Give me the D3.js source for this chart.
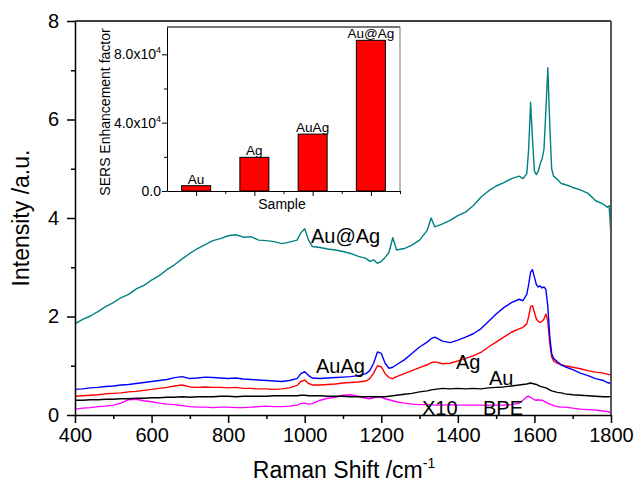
<!DOCTYPE html>
<html lang="en">
<head>
<meta charset="UTF-8">
<title>SERS spectra</title>
<script src="https://d3js.org/d3.v7.min.js"></script>
<style>
  body { margin: 0; background: #fff; }
  svg { font-family: "Liberation Sans", Arial, sans-serif; }
</style>
</head>
<body>
<svg id="chart" width="636" height="486"></svg>
<script>
// Raman shift grid (cm-1), shared by all spectra
const ramanShift = [400,420,440,460,480,500,520,540,560,580,600,620,640,660,680,700,720,740,760,780,800,820,840,860,880,900,920,940,960,980,
  990,1000,1010,1020,1040,1060,1080,1100,1120,1140,1160,1170,1180,1190,1200,1210,1220,1230,1240,1260,1280,1300,1320,1330,1340,
  1360,1380,1400,1420,1440,1460,1480,1500,1520,1540,1560,1570,1580,1585,1590,1595,1600,1605,1610,1615,1620,1625,1630,1635,1640,1645,1650,
  1660,1670,1680,1700,1720,1740,1760,1780,1790,1795,1800];

// intensities
const auAtAg = [1.85,1.94,2.01,2.10,2.20,2.28,2.38,2.45,2.56,2.63,2.74,2.83,2.95,3.05,3.17,3.28,3.38,3.46,3.54,3.58,3.64,3.66,3.61,3.62,3.55,3.54,3.52,3.48,3.51,3.55,
  3.70,3.78,3.55,3.42,3.40,3.37,3.35,3.32,3.28,3.22,3.18,3.12,3.15,3.08,3.12,3.20,3.30,3.60,3.35,3.38,3.45,3.55,3.75,4.00,3.82,
  3.88,3.95,4.05,4.12,4.25,4.42,4.55,4.65,4.72,4.80,4.85,4.80,4.90,5.40,6.35,5.60,4.95,4.88,4.95,5.10,5.20,5.40,6.20,7.05,5.90,5.00,4.85,
  4.78,4.70,4.68,4.62,4.57,4.50,4.35,4.28,4.22,4.25,3.65];
const auAg = [0.52,0.53,0.55,0.56,0.58,0.59,0.61,0.62,0.64,0.66,0.68,0.70,0.72,0.76,0.78,0.74,0.75,0.77,0.76,0.75,0.74,0.75,0.73,0.72,0.71,0.70,0.69,0.68,0.70,0.74,
  0.84,0.88,0.80,0.75,0.74,0.75,0.76,0.77,0.78,0.80,0.84,0.90,1.05,1.28,1.25,1.05,0.95,0.97,1.02,1.12,1.25,1.38,1.48,1.55,1.58,
  1.50,1.47,1.52,1.58,1.65,1.75,1.90,2.05,2.18,2.28,2.35,2.32,2.45,2.65,2.90,2.95,2.80,2.65,2.60,2.62,2.58,2.60,2.55,2.20,1.60,1.25,1.15,
  1.08,1.02,0.98,0.92,0.85,0.80,0.74,0.70,0.66,0.65,0.64];
const ag = [0.38,0.39,0.40,0.41,0.43,0.44,0.45,0.47,0.48,0.50,0.52,0.54,0.56,0.59,0.61,0.57,0.56,0.57,0.56,0.56,0.55,0.56,0.54,0.54,0.53,0.53,0.52,0.53,0.55,0.60,
  0.68,0.71,0.64,0.61,0.61,0.62,0.63,0.65,0.66,0.67,0.69,0.74,0.85,1.00,0.98,0.84,0.76,0.74,0.78,0.84,0.90,0.96,1.02,1.06,1.08,
  1.04,1.05,1.10,1.15,1.20,1.27,1.38,1.48,1.58,1.68,1.75,1.78,1.85,2.00,2.20,2.22,2.08,1.95,1.90,1.88,1.90,1.95,2.05,1.90,1.45,1.18,1.10,
  1.05,1.02,1.00,0.97,0.94,0.90,0.87,0.85,0.83,0.82,0.81];
const au = [0.30,0.30,0.31,0.31,0.32,0.32,0.33,0.33,0.34,0.34,0.35,0.35,0.36,0.36,0.37,0.36,0.37,0.37,0.37,0.38,0.38,0.37,0.38,0.38,0.38,0.38,0.39,0.39,0.39,0.39,
  0.40,0.40,0.39,0.39,0.39,0.38,0.38,0.38,0.37,0.37,0.37,0.37,0.37,0.37,0.37,0.37,0.38,0.39,0.40,0.42,0.44,0.47,0.49,0.51,0.52,
  0.54,0.53,0.54,0.53,0.54,0.53,0.55,0.56,0.57,0.59,0.61,0.62,0.63,0.64,0.65,0.64,0.63,0.62,0.60,0.58,0.57,0.56,0.55,0.53,0.51,0.49,0.48,
  0.46,0.45,0.43,0.41,0.40,0.39,0.38,0.37,0.37,0.37,0.37];
const bpeX10 = [0.12,0.14,0.15,0.17,0.18,0.20,0.24,0.31,0.32,0.29,0.27,0.24,0.22,0.21,0.19,0.17,0.16,0.16,0.15,0.16,0.16,0.15,0.15,0.16,0.17,0.18,0.17,0.17,0.18,0.20,
  0.23,0.24,0.22,0.23,0.30,0.34,0.36,0.40,0.41,0.38,0.34,0.33,0.35,0.37,0.36,0.33,0.31,0.29,0.27,0.24,0.22,0.21,0.21,0.21,0.20,
  0.20,0.21,0.20,0.20,0.20,0.20,0.20,0.20,0.20,0.21,0.24,0.30,0.37,0.38,0.36,0.33,0.31,0.30,0.31,0.30,0.30,0.28,0.26,0.24,0.22,0.21,0.19,
  0.17,0.16,0.16,0.14,0.12,0.11,0.10,0.08,0.07,0.06,0.05];

const xTicks = [400,600,800,1000,1200,1400,1600,1800];
const yTicks = [0,2,4,6,8];

// inset: enhancement factors
const samples = ["Au", "Ag", "AuAg", "Au@Ag"];
const enhancement = [3100, 19700, 33300, 88200];
const insetTicks = [0, 40000, 80000];
const insetTickText = ["0.0", "4.0x10", "8.0x10"];

const svg = d3.select("#chart");

// main plot
const x = d3.scaleLinear().domain([400, 1800]).range([75, 611]);
const y = d3.scaleLinear().domain([0, 8]).range([415, 21]);

const series = [
  {vals: auAtAg, color: "#008080"},
  {vals: bpeX10, color: "#ff00ff"},
  {vals: au, color: "#000000"},
  {vals: ag, color: "#ff0000"},
  {vals: auAg, color: "#0000ff"}
];

const line = d3.line().x(d => x(d[0])).y(d => y(d[1]));

series.forEach(s => {
  svg.append("path")
    .datum(ramanShift.map((r, i) => [r, s.vals[i]]))
    .attr("fill", "none")
    .attr("stroke", s.color)
    .attr("stroke-width", 1.4)
    .attr("stroke-linejoin", "round")
    .attr("d", line);
});

// frame
svg.append("line").attr("x1", 75).attr("x2", 611).attr("y1", 21).attr("y2", 21)
  .attr("stroke", "#000").attr("stroke-width", 1.5);
svg.append("line").attr("x1", 611).attr("x2", 611).attr("y1", 21).attr("y2", 415)
  .attr("stroke", "#555").attr("stroke-width", 2);

// minor ticks
svg.append("g").attr("transform", "translate(0,415)")
  .call(d3.axisBottom(x).tickValues(d3.range(500, 1800, 200)).tickSize(4).tickFormat(""))
  .call(g => g.select(".domain").remove());
svg.append("g").attr("transform", "translate(75,0)")
  .call(d3.axisLeft(y).tickValues([1, 3, 5, 7]).tickSize(4).tickFormat(""))
  .call(g => g.select(".domain").remove());

const xAxis = svg.append("g").attr("transform", "translate(0,415)")
  .call(d3.axisBottom(x).tickValues(xTicks).tickSize(8).tickPadding(5).tickSizeOuter(0).tickFormat(d3.format("d")));
const yAxis = svg.append("g").attr("transform", "translate(75,0)")
  .call(d3.axisLeft(y).tickValues(yTicks).tickSize(8).tickPadding(8).tickSizeOuter(0));
[xAxis, yAxis].forEach(g => {
  g.selectAll("text").attr("font-size", 20).attr("fill", "#000").attr("font-family", "Liberation Sans, Arial, sans-serif");
  g.selectAll("line, path").attr("stroke", "#000").attr("stroke-width", 1.5);
});
svg.selectAll("g line").attr("stroke-width", 1.5);

// axis titles
const xt = svg.append("text").attr("x", 344).attr("y", 478).attr("text-anchor", "middle")
  .attr("font-size", 23).text("Raman Shift /cm");
xt.append("tspan").attr("font-size", 14).attr("dy", -10).text("-1");

svg.append("text").attr("transform", "translate(29,218) rotate(-90)")
  .attr("text-anchor", "middle").attr("font-size", 23).text("Intensity /a.u.");

// curve labels
const curveLabels = [
  {t: "Au@Ag", x: 311, y: 243},
  {t: "AuAg", x: 316, y: 373},
  {t: "Ag", x: 456, y: 369},
  {t: "Au", x: 489, y: 385},
  {t: "X10", x: 422, y: 415},
  {t: "BPE", x: 483, y: 415}
];
svg.selectAll(".clab").data(curveLabels).enter().append("text")
  .attr("x", d => d.x).attr("y", d => d.y).attr("font-size", 20).text(d => d.t);

// inset
const ix = d3.scaleLinear().domain([0.5, 4.5]).range([167, 400]);
const iy = d3.scaleLinear().domain([0, 96000]).range([191, 27]);

svg.append("rect").attr("x", 167).attr("y", 27).attr("width", 233).attr("height", 164).attr("fill", "#fff");

svg.selectAll(".bar").data(enhancement).enter().append("rect")
  .attr("x", (d, i) => ix(i + 1) - 14.5)
  .attr("width", 29)
  .attr("y", d => iy(d))
  .attr("height", d => iy(0) - iy(d))
  .attr("fill", "#ff0000").attr("stroke", "#000").attr("stroke-width", 1);

svg.selectAll(".blab").data(enhancement).enter().append("text")
  .attr("x", (d, i) => ix(i + 1)).attr("y", d => iy(d) - 2)
  .attr("text-anchor", "middle").attr("font-size", 13.5).text((d, i) => samples[i]);

// inset frame
svg.append("line").attr("x1", 167).attr("x2", 400).attr("y1", 27).attr("y2", 27)
  .attr("stroke", "#777").attr("stroke-width", 2);
svg.append("line").attr("x1", 400).attr("x2", 400).attr("y1", 27).attr("y2", 191)
  .attr("stroke", "#777").attr("stroke-width", 1);

svg.append("g").attr("transform", "translate(0,191)")
  .call(d3.axisBottom(ix).tickValues([1.5, 2.5, 3.5, 4.5]).tickSize(3).tickFormat(""))
  .call(g => g.select(".domain").remove());
svg.append("g").attr("transform", "translate(167,0)")
  .call(d3.axisLeft(iy).tickValues([20000, 60000]).tickSize(3).tickFormat(""))
  .call(g => g.select(".domain").remove());

svg.append("g").attr("transform", "translate(0,191)")
  .call(d3.axisBottom(ix).tickValues([1, 2, 3, 4]).tickSize(5).tickFormat("").tickSizeOuter(0));
const iyAxis = svg.append("g").attr("transform", "translate(167,0)")
  .call(d3.axisLeft(iy).tickValues(insetTicks).tickSize(5).tickPadding(1).tickSizeOuter(0)
    .tickFormat((d, i) => insetTickText[i]));
iyAxis.selectAll("text").attr("font-size", 14).attr("fill", "#000")
  .attr("font-family", "Liberation Sans, Arial, sans-serif")
  .each(function(d, i) {
    if (i > 0) {
      d3.select(this).append("tspan").attr("font-size", 9).attr("dy", -6).text("4");
    }
  });

svg.append("text").attr("x", 282).attr("y", 209).attr("text-anchor", "middle")
  .attr("font-size", 14).text("Sample");
svg.append("text").attr("transform", "translate(110,112) rotate(-90)")
  .attr("text-anchor", "middle").attr("font-size", 14).text("SERS Enhancement factor");
</script>
</body>
</html>
